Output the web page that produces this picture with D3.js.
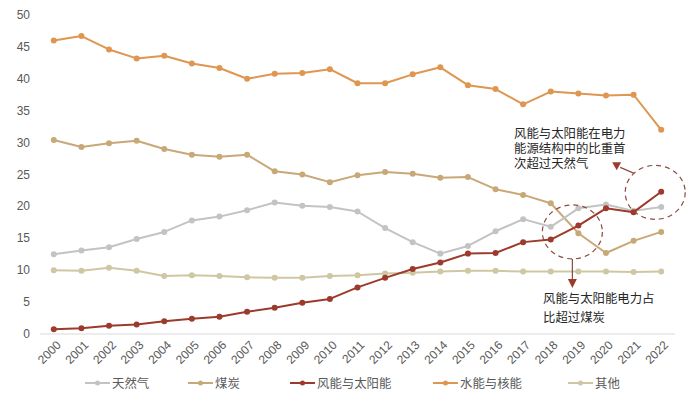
<!DOCTYPE html>
<html>
<head>
<meta charset="utf-8">
<script src="https://cdn.jsdelivr.net/npm/d3@7/dist/d3.min.js"></script>
<style>
  html, body { margin: 0; padding: 0; background: #fff; }
  svg { display: block; font-family: "Liberation Sans", Arial, "Noto Sans CJK SC", sans-serif; }
</style>
</head>
<body>
<svg id="chart" width="700" height="403"></svg>
<script>
const years = ["2000","2001","2002","2003","2004","2005","2006","2007","2008","2009","2010","2011","2012","2013","2014","2015","2016","2017","2018","2019","2020","2021","2022"];
const seriesNames = ["天然气","煤炭","风能与太阳能","水能与核能","其他"];
const gas   = [12.5,13.1,13.6,14.9,16.0,17.8,18.4,19.4,20.6,20.1,19.9,19.2,16.6,14.4,12.6,13.8,16.1,18.0,16.8,19.7,20.3,19.3,19.9];
const coal  = [30.4,29.3,29.9,30.3,29.0,28.1,27.8,28.1,25.5,25.0,23.8,24.9,25.4,25.1,24.5,24.6,22.7,21.8,20.5,15.8,12.7,14.6,16.0];
const windSolar = [0.73,0.9,1.3,1.5,2.0,2.4,2.7,3.5,4.1,4.9,5.5,7.3,8.8,10.2,11.2,12.6,12.7,14.4,14.8,17.0,19.7,19.1,22.3];
const hydroNuclear = [46.0,46.7,44.6,43.2,43.6,42.4,41.7,40.0,40.8,40.9,41.5,39.3,39.3,40.7,41.8,39.0,38.4,36.0,38.0,37.7,37.4,37.5,32.0];
const other = [10.0,9.9,10.4,9.9,9.1,9.2,9.1,8.9,8.8,8.8,9.1,9.2,9.5,9.6,9.8,9.9,9.9,9.8,9.8,9.8,9.8,9.7,9.8];
const yTicks = [0,5,10,15,20,25,30,35,40,45,50];
const annotation1 = ["风能与太阳能电力占","比超过煤炭"];
const annotation2 = ["风能与太阳能在电力","能源结构中的比重首","次超过天然气"];

const colors = ["#C3C3C3","#C9A878","#9C3A2B","#DE9650","#CEC7A2"];
const allSeries = [gas, coal, windSolar, hydroNuclear, other];

const svg = d3.select("#chart");
const x = d3.scaleBand().domain(years).range([40, 675]).padding(0);
const y = d3.scaleLinear().domain([0, 50]).range([334, 15]);
const cx = d => x(d) + x.bandwidth() / 2;

// y axis labels
svg.append("g").selectAll("text").data(yTicks).join("text")
  .attr("x", 30).attr("y", d => y(d))
  .attr("text-anchor", "end").attr("dominant-baseline", "central")
  .attr("font-size", 12).attr("fill", "#595959")
  .text(d => d);

// x baseline
svg.append("line").attr("x1", 40).attr("x2", 675).attr("y1", y(0)).attr("y2", y(0))
  .attr("stroke", "#D9D9D9").attr("stroke-width", 1);

// x labels
svg.append("g").selectAll("text").data(years).join("text")
  .attr("transform", d => `translate(${cx(d) + 5},${y(0) + 9}) rotate(-45)`)
  .attr("text-anchor", "end").attr("dominant-baseline", "central")
  .attr("font-size", 12).attr("fill", "#595959")
  .text(d => d);

// lines (draw order: other, coal, gas, hydro, wind)
const order = [4, 1, 0, 3, 2];
const lineGen = d3.line().x((d, i) => cx(years[i])).y(d => y(d));
order.forEach(k => {
  const g = svg.append("g");
  g.append("path").datum(allSeries[k]).attr("d", lineGen)
    .attr("fill", "none").attr("stroke", colors[k]).attr("stroke-width", 2)
    .attr("stroke-linejoin", "round");
  g.selectAll("circle").data(allSeries[k]).join("circle")
    .attr("cx", (d, i) => cx(years[i])).attr("cy", d => y(d)).attr("r", 3)
    .attr("fill", colors[k]);
});

// annotations
const annColor = "#8C4A40";
// circle 1 around 2019
const c1x = cx("2019") - 6, c1y = y(16.0);
svg.append("ellipse").attr("cx", c1x).attr("cy", c1y).attr("rx", 30).attr("ry", 27)
  .attr("fill", "none").attr("stroke", annColor).attr("stroke-width", 1.2).attr("stroke-dasharray", "5,4");
svg.append("line").attr("x1", c1x).attr("x2", c1x).attr("y1", c1y + 27).attr("y2", c1y + 49)
  .attr("stroke", annColor).attr("stroke-width", 1.2);
svg.append("path")
  .attr("d", `M${c1x - 4.5},${c1y + 47} L${c1x + 4.5},${c1y + 47} L${c1x},${c1y + 56} Z`)
  .attr("fill", "#9C3A2B");
svg.append("g").selectAll("text").data(annotation1).join("text")
  .attr("x", 543).attr("y", (d, i) => 298 + i * 18.5)
  .attr("dominant-baseline", "central").attr("font-size", 12.4).attr("fill", "#262626")
  .attr("font-family", "'Noto Sans CJK SC', sans-serif")
  .text(d => d);

// circle 2 around 2022
const c2x = cx("2022") - 6, c2y = y(22.2);
svg.append("ellipse").attr("cx", c2x).attr("cy", c2y).attr("rx", 30).attr("ry", 27)
  .attr("fill", "none").attr("stroke", annColor).attr("stroke-width", 1.2).attr("stroke-dasharray", "5,4");
svg.append("line").attr("x1", c2x - 21).attr("y1", c2y - 19).attr("x2", c2x - 35).attr("y2", c2y - 25)
  .attr("stroke", annColor).attr("stroke-width", 1.2);
svg.append("path")
  .attr("d", `M${c2x - 43},${c2y - 30} L${c2x - 34},${c2y - 30} L${c2x - 38.5},${c2y - 22} Z`)
  .attr("fill", "#9C3A2B");
svg.append("g").selectAll("text").data(annotation2).join("text")
  .attr("x", 514).attr("y", (d, i) => 133 + i * 14.8)
  .attr("dominant-baseline", "central").attr("font-size", 12.4).attr("fill", "#262626")
  .attr("font-family", "'Noto Sans CJK SC', sans-serif")
  .text(d => d);

// legend
const legendX = [85, 188, 290, 433, 568];
const legendY = 383;
const lg = svg.append("g").selectAll("g").data(seriesNames).join("g")
  .attr("transform", (d, i) => `translate(${legendX[i]},${legendY})`);
lg.append("line").attr("x1", 0).attr("x2", 25).attr("y1", 0).attr("y2", 0)
  .attr("stroke", (d, i) => colors[i]).attr("stroke-width", 2);
lg.append("circle").attr("cx", 12.5).attr("cy", 0).attr("r", 2.5)
  .attr("fill", (d, i) => colors[i]);
lg.append("text").attr("x", 27).attr("y", 0).attr("dominant-baseline", "central")
  .attr("font-size", 12.4).attr("fill", "#595959")
  .attr("font-family", "'Noto Sans CJK SC', sans-serif")
  .text(d => d);
</script>
</body>
</html>
